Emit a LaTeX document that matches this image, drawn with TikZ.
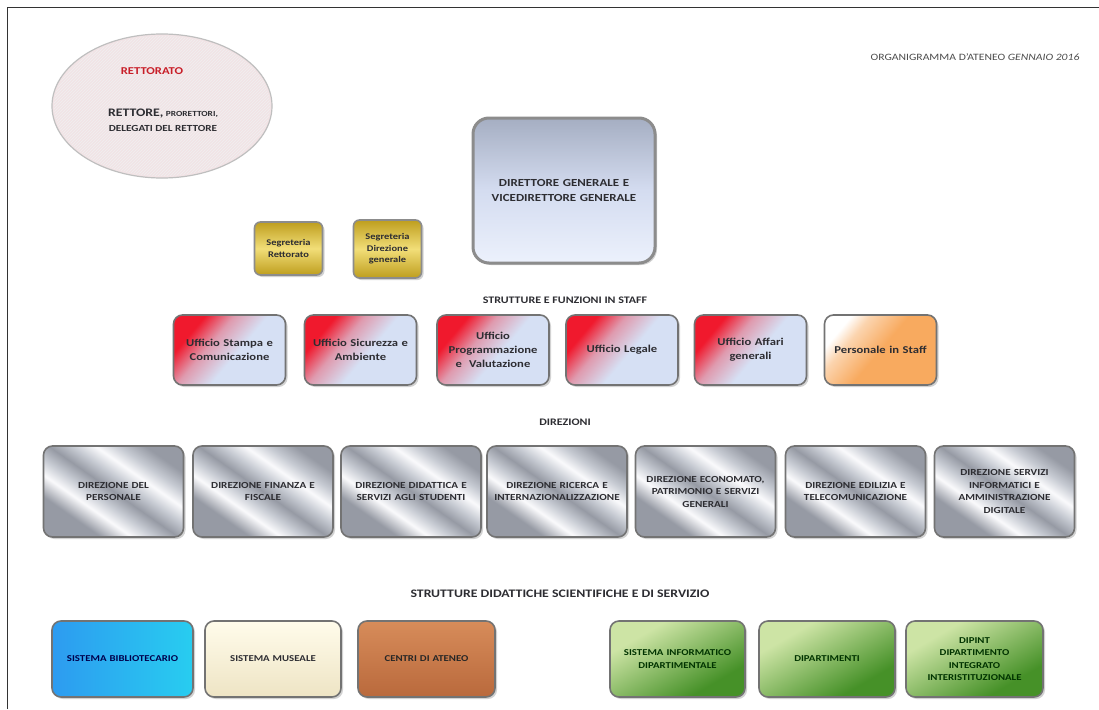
\documentclass[tikz,border=0pt]{standalone}
\usepackage{fontspec}
\setmainfont{Carlito}[FakeStretch=1.2]
\usetikzlibrary{shadows,patterns}
\definecolor{stblue}{RGB}{214,224,244}
\definecolor{stred}{RGB}{240,25,45}
\definecolor{silA}{RGB}{150,154,164}
\definecolor{silB}{RGB}{198,202,210}
\definecolor{silW}{RGB}{250,250,252}
\definecolor{dgtop}{RGB}{165,174,194}
\definecolor{dgmid}{RGB}{212,220,240}
\definecolor{dgbot}{RGB}{236,241,252}
\definecolor{golddark}{RGB}{190,158,30}
\definecolor{goldlight}{RGB}{242,222,120}
\definecolor{orangeA}{RGB}{248,170,95}
\definecolor{blueA}{RGB}{45,155,240}
\definecolor{blueB}{RGB}{40,205,240}
\definecolor{creamA}{RGB}{255,252,235}
\definecolor{creamB}{RGB}{238,228,196}
\definecolor{brownA}{RGB}{215,140,90}
\definecolor{brownB}{RGB}{185,105,60}
\definecolor{greenA}{RGB}{205,228,165}
\definecolor{greenB}{RGB}{70,145,40}
\definecolor{ellfill}{RGB}{242,228,230}
\definecolor{txt}{RGB}{45,45,50}
\definecolor{rettred}{RGB}{200,30,40}
\pgfdeclareverticalshading{redblue}{100bp}{color(0bp)=(stblue); color(46bp)=(stblue); color(60bp)=(stred!35!stblue); color(72bp)=(stred); color(100bp)=(stred)}
\pgfdeclareverticalshading{silver}{100bp}{color(0bp)=(silA); color(30bp)=(silA); color(38bp)=(silW); color(44bp)=(silB); color(50bp)=(silA); color(56bp)=(silB); color(62bp)=(silW); color(68bp)=(silB); color(75bp)=(silA); color(100bp)=(silA)}
\pgfdeclareverticalshading{orangewhite}{100bp}{color(0bp)=(orangeA); color(50bp)=(orangeA); color(66bp)=(orangeA!50!white); color(74bp)=(white); color(100bp)=(white)}
\pgfdeclareverticalshading{greenshade}{100bp}{color(0bp)=(greenB); color(30bp)=(greenB); color(70bp)=(greenA); color(100bp)=(greenA)}
\tikzset{
  box/.style={rounded corners=9pt, draw=black!55, line width=1.6pt,
    drop shadow={opacity=0.35, shadow xshift=2pt, shadow yshift=-2pt},
    align=center, font=\bfseries, text=txt, inner sep=2pt},
  staffbox/.style={box, minimum width=112pt, minimum height=70pt, text width=106pt,
    shading=redblue, shading angle=50, font=\bfseries\fontsize{10.5}{14}\selectfont},
  dirbox/.style={box, minimum width=140pt, minimum height=91pt, text width=134pt,
    shading=silver, shading angle=-35, font=\bfseries\fontsize{9.3}{12.5}\selectfont},
  botbox/.style={box, minimum height=76pt, text width=130pt, font=\bfseries\fontsize{9}{12.5}\selectfont},
  segbox/.style={box, rounded corners=6pt, top color=golddark, bottom color=golddark, middle color=goldlight,
    font=\bfseries\fontsize{8.7}{11.5}\selectfont, text width=64pt, draw=black!45},
  hdr/.style={font=\bfseries\fontsize{10}{12}\selectfont, text=txt},
}
\begin{document}
\begin{tikzpicture}[x=1pt,y=-1pt]
\useasboundingbox (0,0) rectangle (1099,709);
\fill[white] (0,0) rectangle (1099,709);
\coordinate (fbl) at (7,709);
\coordinate (ftl) at (7,7);
\coordinate (ftr) at (1099,7);
\draw[black!80, line width=0.8pt] (fbl) -- (ftl) -- (ftr);

\node[font=\fontsize{9.7}{10}\selectfont, text=black!70] (title) at (975,57) {ORGANIGRAMMA D'ATENEO \textit{GENNAIO 2016}};

% Rettorato ellipse
\draw[fill=ellfill, draw=black!25, line width=1.2pt] (162,106) ellipse [x radius=110, y radius=72];
\path[pattern=north east lines, pattern color=black!6] (162,106) ellipse [x radius=108, y radius=70];
\node[font=\bfseries\fontsize{10.5}{12}\selectfont, text=rettred] (rett) at (152,71) {RETTORATO};
\node[font=\bfseries\fontsize{9.3}{15}\selectfont, text=txt, align=center] (rettore) at (163,120)
  {{\fontsize{11.5}{12}\selectfont RETTORE,} {\fontsize{7.8}{12}\selectfont PRORETTORI,}\\DELEGATI DEL RETTORE};

% Direttore generale
\node[box, rounded corners=16pt, line width=3pt, draw=black!45, minimum width=182pt, minimum height=145pt,
  top color=dgtop, bottom color=dgbot, middle color=dgmid, text width=170pt,
  font=\bfseries\fontsize{10.8}{15}\selectfont] (dg) at (564,190.5)
  {DIRETTORE GENERALE E\\VICEDIRETTORE GENERALE};

% Segreterie
\node[segbox, minimum width=67pt, minimum height=53pt] (sr) at (288.5,248.5) {Segreteria\\Rettorato};
\node[segbox, minimum width=65pt, minimum height=58pt] (sdg) at (387.5,249) {Segreteria\\Direzione\\generale};

% Staff
\node[hdr] (hstaff) at (565,300) {STRUTTURE E FUNZIONI IN STAFF};
\node[staffbox] (s1) at (229.5,350) {Ufficio Stampa e\\Comunicazione};
\node[staffbox] (s2) at (360.5,350) {Ufficio Sicurezza e\\Ambiente};
\node[staffbox] (s3) at (493,350) {Ufficio\\Programmazione\\e\ \ Valutazione};
\node[staffbox] (s4) at (622,350) {Ufficio Legale};
\node[staffbox] (s5) at (750.5,350) {Ufficio Affari\\generali};
\node[staffbox, shading=orangewhite, shading angle=50] (s6) at (880.5,350) {Personale in Staff};

% Direzioni
\node[hdr] (hdir) at (565,422) {DIREZIONI};
\node[dirbox] (d1) at (113.5,491.5) {DIREZIONE DEL\\PERSONALE};
\node[dirbox] (d2) at (263,491.5) {DIREZIONE FINANZA E\\FISCALE};
\node[dirbox] (d3) at (411,491.5) {DIREZIONE DIDATTICA E\\SERVIZI AGLI STUDENTI};
\node[dirbox] (d4) at (557,491.5) {DIREZIONE RICERCA E\\INTERNAZIONALIZZAZIONE};
\node[dirbox] (d5) at (705.5,491.5) {DIREZIONE ECONOMATO,\\PATRIMONIO E SERVIZI\\GENERALI};
\node[dirbox] (d6) at (855.5,491.5) {DIREZIONE EDILIZIA E\\TELECOMUNICAZIONE};
\node[dirbox] (d7) at (1004.5,491.5) {DIREZIONE SERVIZI\\INFORMATICI E\\AMMINISTRAZIONE\\DIGITALE};

% Strutture didattiche
\node[hdr, font=\bfseries\fontsize{11.5}{13}\selectfont] (hstr) at (560,594) {STRUTTURE DIDATTICHE SCIENTIFICHE E DI SERVIZIO};
\node[botbox, minimum width=141pt, left color=blueA, right color=blueB, text=blue!30!black] (b1) at (122.5,659) {SISTEMA BIBLIOTECARIO};
\node[botbox, minimum width=136pt, top color=creamA, bottom color=creamB] (b2) at (273,659) {SISTEMA MUSEALE};
\node[botbox, minimum width=137pt, top color=brownA, bottom color=brownB, text=black!85] (b3) at (426.5,659) {CENTRI DI ATENEO};
\node[botbox, minimum width=135pt, shading=greenshade, shading angle=30, text=black!80!green] (g1) at (677.5,659) {SISTEMA INFORMATICO\\DIPARTIMENTALE};
\node[botbox, minimum width=136pt, shading=greenshade, shading angle=30, text=black!80!green] (g2) at (827,659) {DIPARTIMENTI};
\node[botbox, minimum width=137pt, shading=greenshade, shading angle=30, text=black!80!green] (g3) at (974.5,659) {DIPINT\\DIPARTIMENTO\\INTEGRATO\\INTERISTITUZIONALE};
\end{tikzpicture}
\end{document}
